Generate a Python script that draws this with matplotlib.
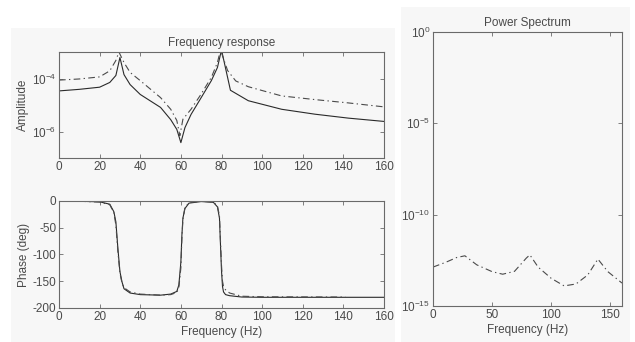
import matplotlib
matplotlib.use("Agg")
import matplotlib.pyplot as plt
from matplotlib.patches import Rectangle
from matplotlib.ticker import FixedLocator, LogFormatterSciNotation, NullLocator

plt.rcParams['font.family'] = ['Liberation Sans', 'DejaVu Sans']
plt.rcParams['mathtext.default'] = 'regular'
plt.rcParams['axes.unicode_minus'] = False

# ---- data ----
amp_freq_solid = [0, 10, 20, 25, 28, 30, 32, 35, 40, 50, 55, 58, 60, 62, 65, 70, 75, 78, 80,
                  84.4, 93.2, 109.6, 126, 142.4, 160]
amp_solid = [3.4e-5, 3.9e-5, 4.7e-5, 7.1e-5, 1.3e-4, 6.2e-4, 1.4e-4, 5.9e-5, 2.5e-5, 8.1e-6,
             2.8e-6, 1.2e-6, 3.8e-7, 1.4e-6, 4.4e-6, 1.9e-5, 8.3e-5, 2.6e-4, 1.2e-3,
             3.6e-5, 1.45e-5, 6.9e-6, 4.5e-6, 3.2e-6, 2.4e-6]
amp_freq_dash = [0, 10, 20, 25, 28, 29.5, 32, 35, 40, 50, 55, 58, 59.5, 61, 65, 70, 75, 78, 79.5,
                 83, 87, 93.2, 109.6, 126, 142.4, 160]
amp_dash = [8.7e-5, 9.6e-5, 1.15e-4, 1.95e-4, 4.8e-4, 1.0e-3, 4.0e-4, 1.7e-4, 8.3e-5, 1.9e-5,
            6.9e-6, 2.6e-6, 7.0e-7, 2.9e-6, 6.9e-6, 2.6e-5, 1.1e-4, 4.0e-4, 1.2e-3,
            2.0e-4, 8.1e-5, 4.9e-5, 2.2e-5, 1.6e-5, 1.2e-5, 8.5e-6]

ph_freq_solid = [10, 15, 20, 25, 27, 28, 29, 30, 31, 32, 35, 40, 50, 55, 58, 59, 60, 60.5, 61, 62,
                 64, 70, 76, 78, 79, 79.5, 80, 80.5, 81, 82, 84, 90, 100, 160]
ph_solid = [-0.5, -1, -1.5, -6, -20, -39, -89, -132, -151, -164, -172, -175, -176, -174, -169,
            -157, -114, -64, -32, -14, -4, -1, -2.5, -11, -32, -82, -130, -160, -170, -175,
            -177, -179.5, -180, -180]
ph_freq_dash = [10, 20, 25, 27, 28, 29, 30, 31, 32, 35, 40, 50, 55, 58, 59, 60, 60.5, 61, 62, 64,
                70, 76, 78, 79, 79.5, 80, 80.5, 81, 82, 84, 90, 100, 141]
ph_dash = [-0.5, -2, -7, -22, -45, -95, -135, -153, -162, -170, -174, -176, -175, -171, -162,
           -125, -70, -35, -12, -3, -0.5, -2, -9, -28, -75, -120, -150, -160, -166, -172,
           -178, -179, -179.5]

ps_freq = [0, 11, 20, 27, 37, 50, 59, 69, 79, 82, 89, 100, 111, 121, 131, 139.6, 148, 160]
ps_val = [1.35e-13, 2.5e-13, 4.5e-13, 5.6e-13, 1.8e-13, 7.6e-14, 5.5e-14, 7.9e-14, 4.2e-13,
          6.3e-13, 1.35e-13, 3.3e-14, 1.26e-14, 1.6e-14, 5.0e-14, 3.7e-13, 7.6e-14, 1.8e-14]

amp_ticks = [1e-6, 1e-4]
ph_ticks = [0, -50, -100, -150, -200]
ps_ticks = [1e-15, 1e-10, 1e-5, 1e0]
f_ticks_left = [0, 20, 40, 60, 80, 100, 120, 140, 160]
f_ticks_right = [0, 50, 100, 150]

# ---- style ----
BG = '#f7f7f7'
LINE = '#2a2a2a'
DASHC = '#4a4a4a'
SPINE = '#6a6a6a'
TXT = '#4a4a4a'
DASH = (0, (6, 3, 1.2, 3))
FS = 8.5

fig = plt.figure(figsize=(6.35, 3.42), dpi=100)
fig.patch.set_facecolor('white')
fig.add_artist(Rectangle((11/635, 0), 384/635, 314/342, transform=fig.transFigure,
                         facecolor=BG, edgecolor='none', zorder=-10))
fig.add_artist(Rectangle((401/635, 0), 229/635, 335/342, transform=fig.transFigure,
                         facecolor=BG, edgecolor='none', zorder=-10))


def style(ax):
    ax.set_facecolor(BG)
    for s in ax.spines.values():
        s.set_color(SPINE)
        s.set_linewidth(0.8)
    ax.tick_params(direction='in', top=True, right=True, length=3, width=0.6,
                   colors=SPINE, labelcolor=TXT, labelsize=FS, pad=2)


ax1 = fig.add_axes([59/635, 1 - 158/342, 325/635, 106/342])
ax1.plot(amp_freq_solid, amp_solid, color=LINE, lw=0.8)
ax1.plot(amp_freq_dash, amp_dash, color=DASHC, lw=0.8, linestyle=DASH)
ax1.set_yscale('log')
ax1.set_xlim(0, 160)
ax1.set_ylim(1e-7, 1e-3)
ax1.yaxis.set_major_locator(FixedLocator(amp_ticks))
ax1.yaxis.set_major_formatter(LogFormatterSciNotation())
ax1.yaxis.set_minor_locator(NullLocator())
ax1.set_xticks(f_ticks_left)
ax1.set_ylabel('Amplitude', fontsize=FS, color=TXT, labelpad=2)
ax1.set_title('Frequency response', fontsize=FS, color=TXT, pad=4)
style(ax1)

ax2 = fig.add_axes([59/635, 1 - 308/342, 325/635, 107/342])
ax2.plot(ph_freq_solid, ph_solid, color=LINE, lw=0.8)
ax2.plot(ph_freq_dash, ph_dash, color=DASHC, lw=0.8, linestyle=DASH)
ax2.set_xlim(0, 160)
ax2.set_ylim(-200, 0)
ax2.set_yticks(ph_ticks)
ax2.set_xticks(f_ticks_left)
ax2.set_ylabel('Phase (deg)', fontsize=FS, color=TXT, labelpad=2)
ax2.set_xlabel('Frequency (Hz)', fontsize=FS, color=TXT, labelpad=2)
style(ax2)

ax3 = fig.add_axes([433/635, 1 - 306/342, 189/635, 274/342])
ax3.plot(ps_freq, ps_val, color=DASHC, lw=0.8, linestyle=DASH)
ax3.set_yscale('log')
ax3.set_xlim(0, 160)
ax3.set_ylim(1e-15, 1e0)
ax3.yaxis.set_major_locator(FixedLocator(ps_ticks))
ax3.yaxis.set_major_formatter(LogFormatterSciNotation())
ax3.yaxis.set_minor_locator(NullLocator())
ax3.set_xticks(f_ticks_right)
ax3.set_xlabel('Frequency (Hz)', fontsize=FS, color=TXT, labelpad=2)
ax3.set_title('Power Spectrum', fontsize=FS, color=TXT, pad=4)
style(ax3)

fig.savefig('out.png', dpi=100, facecolor=fig.get_facecolor())
